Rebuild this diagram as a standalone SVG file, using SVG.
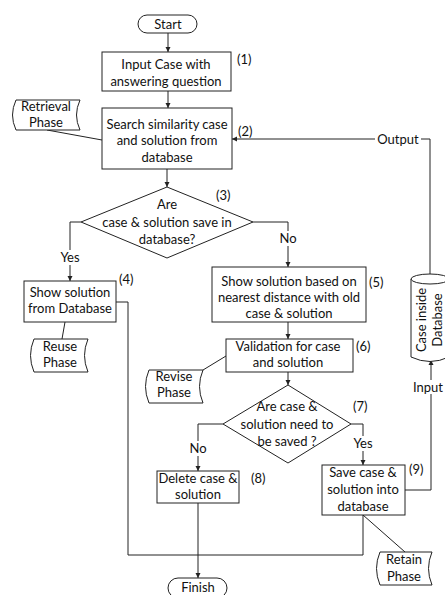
<svg xmlns="http://www.w3.org/2000/svg" width="445" height="595" viewBox="0 0 445 595">
<style>
.s{fill:#fff;stroke:#222;stroke-width:1}
.t{font-family:Lato,"Liberation Sans",sans-serif;font-size:13px;fill:#111;text-anchor:middle}
.n{font-family:Lato,"Liberation Sans",sans-serif;font-size:13px;fill:#111;text-anchor:start}
.c{fill:none;stroke:#222;stroke-width:1}
.bg{fill:#fff;stroke:none}
</style>
<defs>
<marker id="ah" markerWidth="6" markerHeight="6" refX="5" refY="3" orient="auto" markerUnits="userSpaceOnUse">
<path d="M0,0.5 L5,3 L0,5.5 Z" fill="#222"/>
</marker>
</defs>
<rect width="445" height="595" fill="#fff"/>
<g id="connectors">
<path class="c" d="M168,33 V52" marker-end="url(#ah)"/>
<path class="c" d="M168,91 V108" marker-end="url(#ah)"/>
<path class="c" d="M167,169 V187" marker-end="url(#ah)"/>
<path class="c" d="M430,274 V139 H232" marker-end="url(#ah)"/>
<path class="c" d="M81,222 H70 V281" marker-end="url(#ah)"/>
<path class="c" d="M253,222 H288 V267" marker-end="url(#ah)"/>
<path class="c" d="M288,322 V339" marker-end="url(#ah)"/>
<path class="c" d="M288,372 V385" marker-end="url(#ah)"/>
<path class="c" d="M223,424 H198 V471" marker-end="url(#ah)"/>
<path class="c" d="M351,424 H363 V465" marker-end="url(#ah)"/>
<path class="c" d="M116,302 H128 V555 H363 V515"/>
<path class="c" d="M198,503 V578" marker-end="url(#ah)"/>
<path class="c" d="M405,490 H431 V360" marker-end="url(#ah)"/>
<path class="c" d="M47,130 L102,140"/>
<path class="c" d="M65,322 L62,339"/>
<path class="c" d="M226,356 L203,370"/>
<path class="c" d="M363,515 L405,552"/>
<rect class="bg" x="375" y="132" width="46" height="14"/>
<text class="t" x="398" y="143.5">Output</text>
<rect class="bg" x="412" y="380" width="33" height="14"/>
<text class="t" x="428" y="391.5">Input</text>
<rect class="bg" x="57" y="250" width="26" height="15"/>
<text class="t" x="70" y="262">Yes</text>
<rect class="bg" x="277" y="231" width="22" height="15"/>
<text class="t" x="288" y="243">No</text>
<rect class="bg" x="187" y="441" width="22" height="15"/>
<text class="t" x="198" y="453">No</text>
<rect class="bg" x="350" y="436" width="26" height="15"/>
<text class="t" x="363" y="448">Yes</text>
</g>
<g id="start">
<rect class="s" x="138" y="15" width="59" height="18" rx="9" ry="9"/>
<text class="t" x="168" y="29">Start</text>
</g>
<g id="step1">
<rect class="s" x="102" y="52" width="129" height="39"/>
<text class="t" x="166" y="69">Input Case with</text>
<text class="t" x="166" y="86">answering question</text>
<text class="n" x="237" y="64">(1)</text>
</g>
<g id="step2">
<rect class="s" x="102" y="108" width="130" height="61"/>
<text class="t" x="167" y="129">Search similarity case</text>
<text class="t" x="167" y="145">and solution from</text>
<text class="t" x="167" y="162">database</text>
<text class="n" x="238" y="136">(2)</text>
</g>
<g id="retrieval">
<path class="s" d="M16,100 H80 Q73,115 80,130 H16 Q9,115 16,100 Z"/>
<text class="t" x="46" y="111">Retrieval</text>
<text class="t" x="46" y="127">Phase</text>
</g>
<g id="decision3">
<path class="s" d="M167,187 L253,222 L167,258 L81,222 Z"/>
<text class="t" x="167" y="209">Are</text>
<text class="t" x="167" y="227">case &amp; solution save in</text>
<text class="t" x="167" y="244">database?</text>
<text class="n" x="216" y="200">(3)</text>
</g>
<g id="step4">
<rect class="s" x="24" y="281" width="92" height="41"/>
<text class="t" x="70" y="297">Show solution</text>
<text class="t" x="70" y="313">from Database</text>
<text class="n" x="119" y="284">(4)</text>
</g>
<g id="reuse">
<path class="s" d="M34,339 H88 Q81,355.5 88,372 H34 Q27,355.5 34,339 Z"/>
<text class="t" x="60" y="351">Reuse</text>
<text class="t" x="60" y="367">Phase</text>
</g>
<g id="step5">
<rect class="s" x="212" y="267" width="154" height="55"/>
<text class="t" x="289" y="286">Show solution based on</text>
<text class="t" x="289" y="302">nearest distance with old</text>
<text class="t" x="289" y="318">case &amp; solution</text>
<text class="n" x="369" y="287">(5)</text>
</g>
<g id="step6">
<rect class="s" x="226" y="339" width="127" height="33"/>
<text class="t" x="288" y="351">Validation for case</text>
<text class="t" x="288" y="367">and solution</text>
<text class="n" x="356" y="351">(6)</text>
</g>
<g id="revise">
<path class="s" d="M149,370 H203 Q196,386.5 203,403 H149 Q142,386.5 149,370 Z"/>
<text class="t" x="174" y="381">Revise</text>
<text class="t" x="174" y="397">Phase</text>
</g>
<g id="decision7">
<path class="s" d="M288,385 L351,424 L288,463 L223,424 Z"/>
<text class="t" x="287" y="411">Are case &amp;</text>
<text class="t" x="287" y="429">solution need to</text>
<text class="t" x="287" y="446">be saved ?</text>
<text class="n" x="353" y="411">(7)</text>
</g>
<g id="step8">
<rect class="s" x="157" y="471" width="82" height="32"/>
<text class="t" x="198" y="483">Delete case &amp;</text>
<text class="t" x="198" y="499">solution</text>
<text class="n" x="251" y="483">(8)</text>
</g>
<g id="step9">
<rect class="s" x="322" y="465" width="83" height="50"/>
<text class="t" x="363" y="477">Save case &amp;</text>
<text class="t" x="363" y="494">solution into</text>
<text class="t" x="363" y="511">database</text>
<text class="n" x="409" y="474">(9)</text>
</g>
<g id="retain">
<path class="s" d="M380,552 H432 Q425,568.5 432,585 H380 Q373,568.5 380,552 Z"/>
<text class="t" x="404" y="564">Retain</text>
<text class="t" x="404" y="581">Phase</text>
</g>
<g id="database">
<path class="s" d="M411,279 V357 Q430,366 449,357 V279"/>
<ellipse class="s" cx="430" cy="279" rx="19" ry="5"/>
<text class="t" transform="translate(426,320) rotate(-90)">Case inside</text>
<text class="t" transform="translate(442,320) rotate(-90)">Database</text>
</g>
<g id="finish">
<rect class="s" x="168" y="578" width="59" height="20" rx="10" ry="10"/>
<text class="t" x="198" y="592">Finish</text>
</g>
</svg>
